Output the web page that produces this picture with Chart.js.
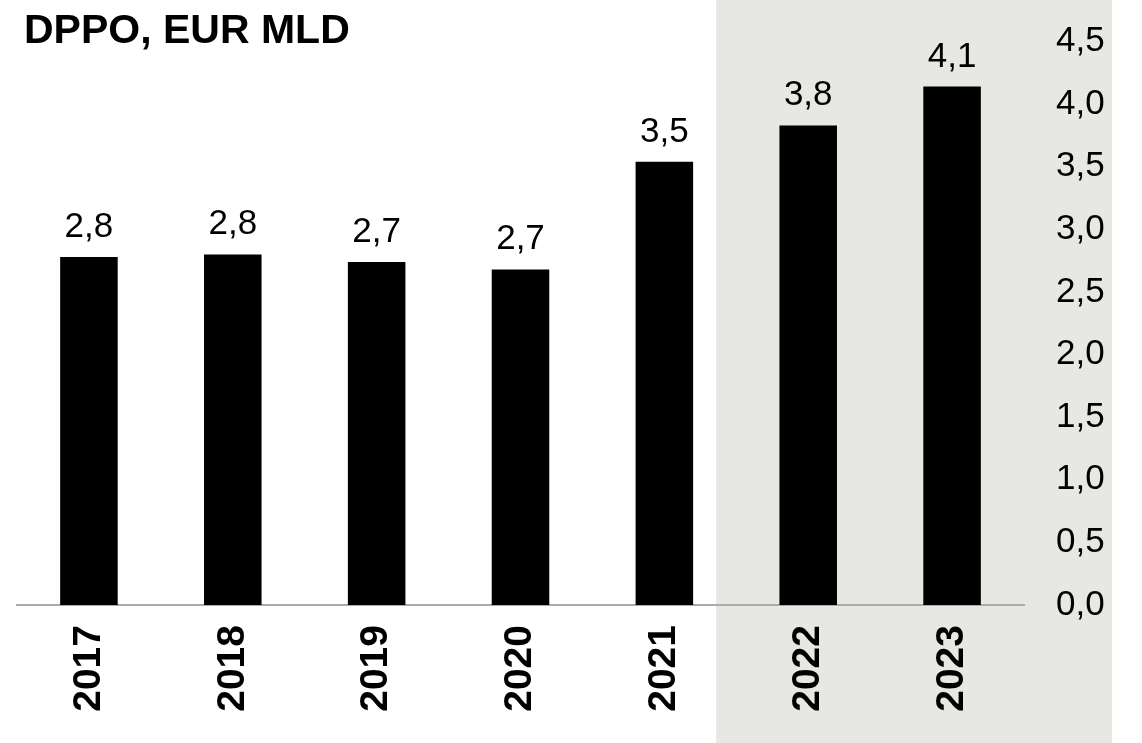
<!DOCTYPE html>
<html>
<head>
<meta charset="utf-8">
<script src="https://cdn.jsdelivr.net/npm/chart.js@4"></script>
<style>
  html, body { margin: 0; padding: 0; background: #fff; }
  #wrap { width: 1142px; height: 743px; position: relative; }
</style>
</head>
<body>
<div id="wrap"><canvas id="chart"></canvas></div>
<script>
// DPPO chart

const years = ['2017', '2018', '2019', '2020', '2021', '2022', '2023'];
const dppo = [2.78, 2.80, 2.74, 2.68, 3.54, 3.83, 4.14];
const shadedFrom = 4.36; // category position where the grey band starts
const titleText = 'DPPO, EUR MLD';

const FONT = '"Liberation Sans", Arial, Helvetica, sans-serif';

function fmt(v) {
  return v.toFixed(1).replace('.', ',');
}

// grey band behind 2022-2023, plus the title in the top-left corner
const bandPlugin = {
  id: 'band',
  beforeDraw(chart) {
    const { ctx, scales } = chart;
    const left = scales.x.getPixelForValue(shadedFrom);
    ctx.save();
    ctx.fillStyle = '#e7e7e3';
    ctx.fillRect(left, 0, chart.width - 30 - left, chart.height);
    ctx.fillStyle = '#000';
    ctx.font = 'bold 41px ' + FONT;
    ctx.textAlign = 'left';
    ctx.textBaseline = 'alphabetic';
    ctx.fillText(titleText, 24, 43);
    ctx.restore();
  }
};

// value labels above bars
const valueLabels = {
  id: 'valueLabels',
  afterDatasetsDraw(chart) {
    const { ctx } = chart;
    const meta = chart.getDatasetMeta(0);
    ctx.save();
    ctx.font = '35px ' + FONT;
    ctx.fillStyle = '#000';
    ctx.textAlign = 'center';
    ctx.textBaseline = 'alphabetic';
    meta.data.forEach((bar, i) => {
      ctx.fillText(fmt(dppo[i]), bar.x, bar.y - 20);
    });
    ctx.restore();
  }
};

new Chart(document.getElementById('chart'), {
  type: 'bar',
  data: {
    labels: years,
    datasets: [{
      data: dppo,
      backgroundColor: '#000',
      barPercentage: 0.4,
      categoryPercentage: 1
    }]
  },
  options: {
    responsive: true,
    maintainAspectRatio: false,
    animation: false,
    layout: { padding: { left: 17, right: 0, top: 41.5, bottom: 0 } },
    plugins: {
      legend: { display: false },
      tooltip: { enabled: false },
      title: { display: false }
    },
    scales: {
      x: {
        grid: { display: false, drawTicks: false },
        border: { display: true, color: '#aaaaaa', width: 2 },
        ticks: {
          color: '#000',
          font: { family: FONT, size: 39, weight: 'bold' },
          minRotation: 90,
          maxRotation: 90,
          padding: 20
        },
        afterFit(scale) { scale.height = 138; }
      },
      y: {
        position: 'right',
        min: 0,
        max: 4.5,
        grid: { display: false, drawTicks: false },
        border: { display: false },
        ticks: {
          stepSize: 0.5,
          color: '#000',
          font: { family: FONT, size: 35 },
          padding: 32,
          callback: v => fmt(v)
        },
        afterFit(scale) {
          scale.width = 118;
          scale.paddingTop = 0;
          scale.paddingBottom = 0;
        }
      }
    }
  },
  plugins: [bandPlugin, valueLabels]
});
</script>
</body>
</html>
